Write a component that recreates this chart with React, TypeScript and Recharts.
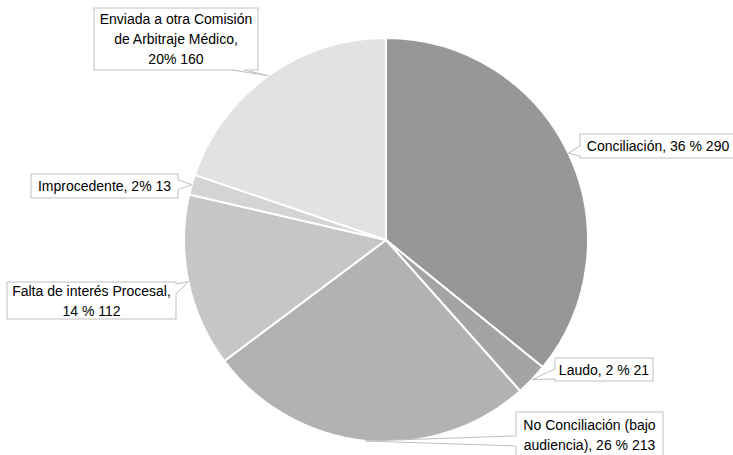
import React from "react";
import { PieChart, Pie, Cell } from "recharts";

// Categories and values, clockwise from the top
const categories = [
  "Conciliación",
  "Laudo",
  "No Conciliación (bajo audiencia)",
  "Falta de interés Procesal",
  "Improcedente",
  "Enviada a otra Comisión de Arbitraje Médico",
];
const values = [290, 21, 213, 112, 13, 160];

// Label texts as shown on the callouts
const labelLines = [
  ["Conciliación, 36 % 290"],
  ["Laudo, 2 % 21"],
  ["No Conciliación (bajo", "audiencia), 26 % 213"],
  ["Falta de interés Procesal,", "14 % 112"],
  ["Improcedente, 2% 13"],
  ["Enviada a otra Comisión", "de Arbitraje Médico,", "20% 160"],
];

const COLORS = ["#979797", "#a4a4a4", "#b2b2b2", "#c6c6c6", "#d4d4d4", "#e2e2e3"];

// Callout box layout (x, y, w, h) and the side that the pointer leaves from
const CALLOUTS = [
  { x: 580, y: 134, w: 156, h: 24, side: "left" },
  { x: 555, y: 358, w: 98, h: 23, side: "left" },
  { x: 516, y: 412, w: 147, h: 46, side: "left" },
  { x: 7, y: 282, w: 169, h: 37, side: "right" },
  { x: 31, y: 174, w: 147, h: 24, side: "right" },
  { x: 94, y: 8, w: 164, h: 62, side: "bottom" },
];

const data = categories.map((name, i) => ({ name, value: values[i] }));

const RAD = Math.PI / 180;
const BORDER = "#bfbfbf";

const renderLabel = (props: any) => {
  const { cx, cy, midAngle, outerRadius, index } = props;
  const tx = cx + outerRadius * Math.cos(-midAngle * RAD);
  const ty = cy + outerRadius * Math.sin(-midAngle * RAD);
  const b = CALLOUTS[index];
  const lines = labelLines[index];
  const clamp = (v: number, lo: number, hi: number) => Math.max(lo, Math.min(hi, v));
  let p1: [number, number];
  let p2: [number, number];
  if (b.side === "left" || b.side === "right") {
    const ex = b.side === "left" ? b.x : b.x + b.w;
    const c = clamp(ty, b.y + 7, b.y + b.h - 7);
    p1 = [ex, c - 5];
    p2 = [ex, c + 5];
  } else {
    const ey = b.side === "top" ? b.y : b.y + b.h;
    const c = clamp(tx, b.x + 7, b.x + b.w - 12) - 8;
    p1 = [c - 6, ey];
    p2 = [c + 6, ey];
  }
  const inset = b.side === "left" ? [1, 0] : b.side === "right" ? [-1, 0] : [0, -1];
  const lineH = 20;
  const textTop = b.y + b.h / 2 - ((lines.length - 1) * lineH) / 2;
  return (
    <g key={`callout-${index}`}>
      <rect x={b.x} y={b.y} width={b.w} height={b.h} fill="#ffffff" stroke={BORDER} strokeWidth={1} />
      <polygon
        points={`${p1[0] + inset[0]},${p1[1] + inset[1]} ${tx},${ty} ${p2[0] + inset[0]},${p2[1] + inset[1]}`}
        fill="#ffffff"
        stroke="none"
      />
      <polyline
        points={`${p1[0]},${p1[1]} ${tx},${ty} ${p2[0]},${p2[1]}`}
        fill="none"
        stroke={BORDER}
        strokeWidth={1}
      />
      {lines.map((t, k) => (
        <text
          key={k}
          x={b.x + b.w / 2}
          y={textTop + k * lineH}
          textAnchor="middle"
          dominantBaseline="central"
          fontFamily="Liberation Sans, Arial, sans-serif"
          fontSize={14}
          fill="#000000"
        >
          {t}
        </text>
      ))}
    </g>
  );
};

const App: React.FC = () => {
  return (
    <div style={{ position: "absolute", left: 0, top: 0 }}>
      <PieChart width={733} height={455} margin={{ top: 0, right: 0, bottom: 0, left: 0 }}>
        <Pie
          data={data}
          dataKey="value"
          nameKey="name"
          cx={386}
          cy={240}
          outerRadius={202}
          startAngle={90}
          endAngle={-270}
          stroke="#ffffff"
          strokeWidth={2}
          label={renderLabel}
          labelLine={false}
          isAnimationActive={false}
        >
          {data.map((entry, index) => (
            <Cell key={`cell-${index}`} fill={COLORS[index]} />
          ))}
        </Pie>
      </PieChart>
    </div>
  );
};

export default App;
